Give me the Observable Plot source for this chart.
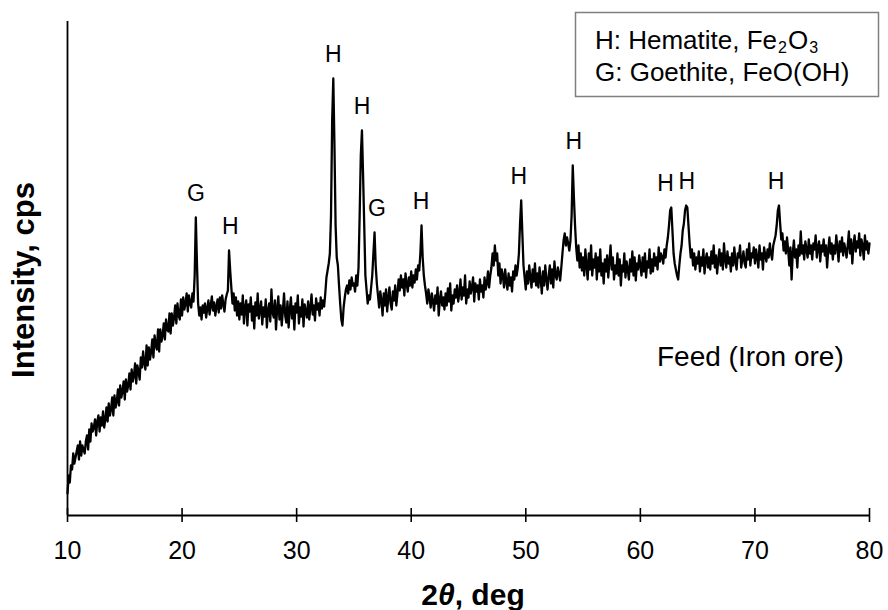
<!DOCTYPE html>
<html>
<head>
<meta charset="utf-8">
<script src="https://cdn.jsdelivr.net/npm/d3@7"></script>
<script src="https://cdn.jsdelivr.net/npm/@observablehq/plot@0.6"></script>
<style>
  html, body { margin: 0; padding: 0; background: #fff; }
  #chart { width: 888px; height: 610px; }
  svg { font-family: "Liberation Sans", Arial, sans-serif; }
</style>
</head>
<body>
<div id="chart"></div>
<script>
// ---- data ----
const thetaStart = 10;      // first 2θ of the scan, deg
const thetaStep = 0.1;      // scan step, deg
const intensity = [
  22,40,33,50,46,62,52,58,64,70,
  56,74,60,70,66,62,74,80,66,86,
  74,92,84,88,96,80,94,100,84,98,
  90,104,88,96,108,94,112,100,106,118,
  100,120,108,114,126,110,130,118,124,134,
  116,136,124,130,142,126,146,134,140,152,
  132,150,144,136,158,148,164,152,146,170,
  150,168,156,164,176,158,180,170,166,186,
  164,186,174,180,192,176,196,186,184,202,
  182,202,190,198,210,192,212,200,196,216,
  200,218,206,212,222,204,220,212,208,222,
  214,240,298,252,212,200,208,196,210,203,
  212,198,207,215,201,210,219,205,213,200,
  209,216,203,218,207,220,211,204,216,221,
  225,265,245,228,212,222,205,218,200,214,
  196,212,201,220,192,208,215,190,211,204,
  218,195,209,187,213,200,222,197,206,214,
  191,208,199,216,188,205,212,194,226,203,
  198,215,186,207,219,196,210,190,205,222,
  200,193,214,188,206,218,197,209,186,212,
  203,220,192,208,199,216,189,211,204,198,
  214,196,208,221,201,210,195,217,206,212,
  200,218,207,215,209,222,238,245,252,262,
  300,395,437,370,290,258,250,230,212,196,
  190,208,218,226,230,222,235,226,238,230,
  232,224,240,230,248,300,360,385,340,290,
  240,226,212,220,216,228,240,262,283,250,
  232,220,208,224,215,200,222,210,226,204,
  218,228,212,206,224,215,230,210,222,236,
  225,240,228,236,220,242,232,224,238,230,
  244,228,240,233,246,236,250,245,262,290,
  258,240,230,222,212,226,218,208,222,214,
  205,220,212,228,200,216,224,210,218,206,
  222,210,227,214,232,205,220,212,226,218,
  230,214,222,236,216,228,220,240,212,226,
  218,234,222,228,238,214,232,224,230,216,
  236,224,230,218,238,226,232,244,228,240,
  248,262,250,270,255,262,240,252,232,246,
  240,228,246,234,226,242,230,238,224,244,
  236,250,240,248,262,292,315,282,250,238,
  226,244,232,250,238,228,246,234,252,230,
  242,228,248,236,222,244,230,250,236,226,
  240,250,232,246,228,254,240,236,248,242,
  235,248,262,275,282,270,278,272,265,275,
  300,350,318,290,268,255,270,248,262,245,
  258,240,266,250,236,262,246,270,240,256,
  248,262,236,258,244,266,240,252,232,256,
  244,260,238,254,270,246,258,236,250,242,
  262,240,256,230,250,244,262,238,254,246,
  236,256,244,264,240,258,235,252,246,260,
  250,240,258,244,262,238,254,248,266,242,
  256,244,262,250,258,246,268,254,262,258,
  252,266,258,270,278,290,305,308,285,262,
  252,246,240,236,250,262,270,285,292,305,
  310,308,290,272,258,266,250,262,246,258,
  252,264,244,258,250,266,242,256,262,248,
  258,246,264,252,270,248,260,242,256,266,
  250,262,246,272,256,248,264,252,258,244,
  262,250,268,254,246,262,258,270,248,256,
  264,252,248,266,256,272,250,262,258,268,
  252,266,258,248,270,256,262,246,268,260,
  254,266,258,272,262,256,270,275,280,290,
  305,310,292,276,282,265,274,262,278,266,
  250,268,236,262,275,258,266,248,270,260,
  284,262,270,256,274,266,258,276,262,270,
  256,272,266,280,258,268,274,254,270,264,
  276,260,270,248,266,278,262,272,256,270,
  262,280,268,254,274,264,278,260,272,266,
  258,270,284,262,276,252,270,280,264,274,
  268,282,260,276,270,256,280,266,274,262,
  272
];
const peakPhase = ["G","H","H","H","G","H","H","H","H","H","H"];
const peakTheta = [21.2, 24.1, 33.2, 35.7, 36.8, 40.9, 49.6, 54.1, 62.7, 64.1, 72.1];
const peakLabelTheta = [21.2, 24.2, 33.2, 35.7, 37.0, 40.85, 49.4, 54.2, 62.2, 64.05, 71.85];
const xTicks = [10, 20, 30, 40, 50, 60, 70, 80];
const legendLines = [["H: Hematite, Fe", "2", "O", "3"], ["G: Goethite, FeO(OH)"]];
const sampleName = "Feed (Iron ore)";

// ---- build table ----
const scan = intensity.map((v, i) => ({theta: +(thetaStart + i * thetaStep).toFixed(2), I: v}));
const peakTop = (t) => d3.max(scan.filter(d => Math.abs(d.theta - t) <= 0.15), d => d.I);
const peaks = peakPhase.map((p, i) => ({label: p, x: peakLabelTheta[i], y: peakTop(peakTheta[i])}));

const W = 888, H = 610;
const plot = Plot.plot({
  width: W, height: H,
  marginLeft: 67, marginRight: 19, marginTop: 21, marginBottom: 95,
  style: {fontFamily: "'Liberation Sans', Arial, sans-serif", color: "#000", background: "#fff"},
  x: {domain: [10, 80]},
  y: {domain: [0, 494], axis: null},
  marks: [
    Plot.axisX({ticks: xTicks, tickSize: 7, tickPadding: 19, fontSize: 25, label: null, strokeWidth: 1.6}),
    Plot.ruleX(xTicks, {x: d => d, y1: 0, y2: 7, strokeWidth: 1.6}),
    Plot.ruleY([0], {strokeWidth: 1.8}),
    Plot.ruleX([10], {y1: 0, y2: 494, strokeWidth: 1.8}),
    Plot.line(scan, {x: "theta", y: "I", stroke: "#000", strokeWidth: 2.3, strokeLinejoin: "round"}),
    Plot.text(peaks, {x: "x", y: "y", text: "label", dy: -24, fontSize: 23, fill: "#000"}),
    Plot.text([sampleName], {x: 69.6, y: 158, text: d => d, fontSize: 28, fill: "#000"})
  ]
});
document.getElementById("chart").appendChild(plot);

const svg = d3.select(plot);
// x-axis title
const xt = svg.append("text").attr("x", 473).attr("y", 605).attr("text-anchor", "middle")
  .attr("font-size", 30).attr("font-weight", "bold").attr("fill", "#000");
xt.append("tspan").text("2");
xt.append("tspan").attr("font-style", "italic").text("θ");
xt.append("tspan").text(", deg");
// y-axis title
svg.append("text").attr("transform", "translate(34,280) rotate(-90)").attr("text-anchor", "middle")
  .attr("font-size", 31).attr("font-weight", "bold").attr("fill", "#000").text("Intensity, cps");
// legend box
const lg = svg.append("g").attr("text-anchor", "start");
lg.append("rect").attr("x", 575.5).attr("y", 12.5).attr("width", 303).attr("height", 84)
  .attr("fill", "#fff").attr("stroke", "#7f7f7f").attr("stroke-width", 1.5);
legendLines.forEach((parts, i) => {
  const base = 49 + i * 32;
  let x = 595;
  parts.forEach((p, j) => {
    const sub = j % 2 === 1;
    const t = lg.append("text").attr("x", x).attr("y", sub ? base + 4 : base)
      .attr("font-size", sub ? 16 : 26).attr("text-anchor", "start").attr("fill", "#000").text(p);
    x += t.node().getComputedTextLength() + 1;
  });
});
</script>
</body>
</html>
